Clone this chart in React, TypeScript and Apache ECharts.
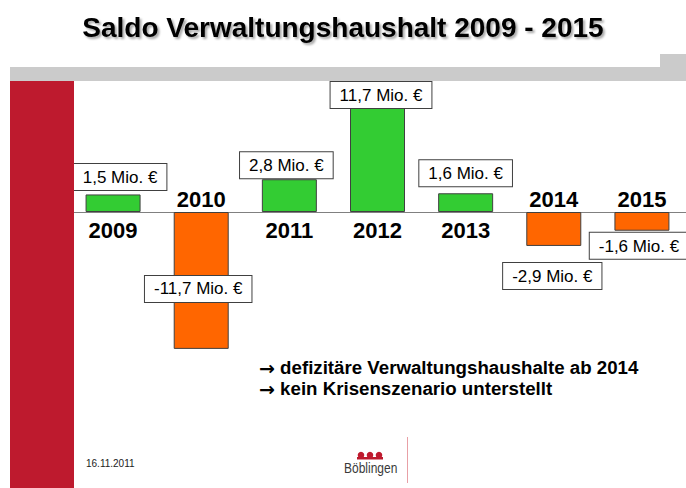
import React, { useEffect, useRef } from "react";
import * as echarts from "echarts";

const years = ["2009", "2010", "2011", "2012", "2013", "2014", "2015"];
const saldo = [1.5, -11.7, 2.8, 11.7, 1.6, -2.9, -1.6];
const titleText = "Saldo Verwaltungshaushalt 2009 - 2015";
const notes = ["defizitäre Verwaltungshaushalte ab 2014", "kein Krisenszenario unterstellt"];
const dateText = "16.11.2011";
const logoText = "Böblingen";

// label placement per bar (layout only)
const labelLayout = [
  { position: "top", distance: 4.5, offset: [7, 0] },
  { position: "inside", distance: 0, offset: [-3, 8.5] },
  { position: "top", distance: 1, offset: [-3, 0] },
  { position: "insideTop", distance: 7, offset: [3.5, 0] },
  { position: "top", distance: 7, offset: [0, 0] },
  { position: "bottom", distance: 17, offset: [-1.5, 0] },
  { position: "bottom", distance: 2, offset: [-3, 0] },
];

const FONT = "'Liberation Sans', Arial, sans-serif";
const GREEN = "#33cc33";
const ORANGE = "#ff6600";
const RED = "#be1a2e";

function fmt(v: number) {
  return v.toFixed(1).replace(".", ",") + " Mio. €";
}

export default function App() {
  const ref = useRef<HTMLDivElement>(null);
  useEffect(() => {
    if (!ref.current) return;
    const chart = echarts.init(ref.current, undefined, { renderer: "svg" });
    const barData = saldo.map((v, i) => ({
      value: v,
      itemStyle: { color: v >= 0 ? GREEN : ORANGE },
      label: {
        position: labelLayout[i].position,
        distance: labelLayout[i].distance,
        offset: labelLayout[i].offset,
      },
    }));
    const yearData = saldo.map((v, i) => ({
      value: 0,
      name: years[i],
      label: {
        position: v >= 0 ? "bottom" : "top",
        distance: v >= 0 ? 7 : 2,
      },
    }));
    chart.setOption({
      animation: false,
      backgroundColor: "#ffffff",
      grid: { left: 69, width: 621, top: 71.6, height: 280.8, containLabel: false },
      xAxis: {
        type: "category",
        data: years,
        axisLine: { show: true, onZero: true, lineStyle: { color: "#808080", width: 1 } },
        axisTick: { show: false },
        axisLabel: { show: false },
        splitLine: { show: false },
      },
      yAxis: {
        type: "value",
        min: -12,
        max: 12,
        show: false,
        splitLine: { show: false },
      },
      series: [
        {
          type: "bar",
          data: barData,
          barWidth: 55,
          z: 2,
          itemStyle: { borderColor: "#404040", borderWidth: 1 },
          label: {
            show: true,
            formatter: (p: any) => fmt(p.value),
            fontFamily: FONT,
            fontSize: 17,
            color: "#000",
            backgroundColor: "#ffffff",
            borderColor: "#404040",
            borderWidth: 1,
            padding: [5, 9, 4, 9],
          },
        },
        {
          type: "scatter",
          data: yearData,
          symbolSize: 0,
          z: 3,
          itemStyle: { opacity: 1 },
          label: {
            show: true,
            formatter: (p: any) => p.name,
            fontFamily: FONT,
            fontWeight: "bold",
            fontSize: 22,
            color: "#000",
            opacity: 1,
          },
        },
      ],
      graphic: [
        {
          type: "text",
          left: "center",
          top: 13,
          style: {
            text: titleText,
            font: `bold 28px ${FONT}`,
            fill: "#000",
            textShadowColor: "rgba(0,0,0,0.35)",
            textShadowOffsetX: 2,
            textShadowOffsetY: 2,
            textShadowBlur: 2,
          },
        },
        { type: "rect", z: 100, shape: { x: 660, y: 54, width: 26, height: 14 }, style: { fill: "#cbcbcb" } },
        { type: "rect", z: 100, shape: { x: 10, y: 67, width: 676, height: 14 }, style: { fill: "#cbcbcb" } },
        { type: "rect", z: 100, shape: { x: 10, y: 81, width: 64, height: 407 }, style: { fill: RED } },
        {
          type: "text",
          z: 100,
          x: 259,
          y: 357,
          style: {
            text: notes.map((n) => "{a|→} " + n).join("\n"),
            font: `bold 18.7px ${FONT}`,
            fill: "#000",
            lineHeight: 21,
            rich: {
              a: { fontFamily: "'DejaVu Sans'", fontWeight: "bold", fontSize: 19, lineHeight: 21 },
            },
          },
        },
        {
          type: "text",
          z: 100,
          x: 86,
          y: 458,
          style: { text: dateText, font: `10px ${FONT}`, fill: "#222" },
        },
        { type: "circle", z: 100, shape: { cx: 361, cy: 455, r: 3.3 }, style: { fill: RED } },
        { type: "circle", z: 100, shape: { cx: 370, cy: 455, r: 3.3 }, style: { fill: RED } },
        { type: "circle", z: 100, shape: { cx: 379, cy: 455, r: 3.3 }, style: { fill: RED } },
        { type: "rect", z: 100, shape: { x: 357, y: 457, width: 26, height: 2.5 }, style: { fill: RED } },
        {
          type: "text",
          z: 100,
          x: 344,
          y: 461,
          scaleX: 0.8,
          style: { text: logoText, font: `15px ${FONT}`, fill: "#3a3a3a" },
        },
        {
          type: "line",
          z: 100,
          shape: { x1: 407.5, y1: 437, x2: 407.5, y2: 483 },
          style: { stroke: "#e8a0a6", lineWidth: 1 },
        },
      ],
    });
    return () => chart.dispose();
  }, []);
  return (
    <div
      ref={ref}
      style={{ position: "absolute", left: 0, top: 0, width: 686, height: 488 }}
    />
  );
}
